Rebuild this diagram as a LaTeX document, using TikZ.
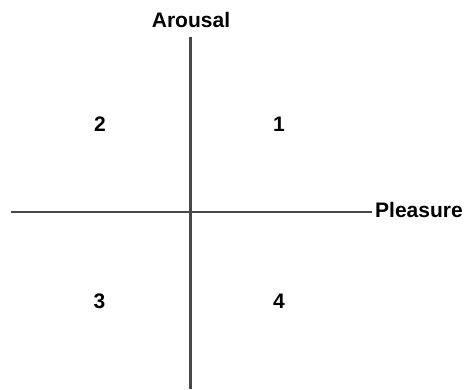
\documentclass[tikz,border=0pt]{standalone}
\usepackage{fontspec}
\setmainfont{Liberation Sans}
\begin{document}
\begin{tikzpicture}[x=1pt,y=-1pt,
  axis/.style={line width=2.2pt,draw=black!72},
  lbl/.style={font=\fontsize{21}{25}\selectfont\bfseries,inner sep=0pt,text=black}]
\useasboundingbox (0,0) rectangle (464,389);
\coordinate (vtop) at (190.5,37);
\coordinate (vbot) at (190.5,389);
\coordinate (hl) at (11,211.7);
\coordinate (hr) at (372,211.7);
\draw[axis] (vtop) -- (vbot);
\draw[axis] (hl) -- (hr);
\node[lbl,anchor=base] (arousal) at (191,27) {Arousal};
\node[lbl,anchor=base west] (pleasure) at (375,217.5) {Pleasure};
\node[lbl,anchor=base] (q2) at (100,131.5) {2};
\node[lbl,anchor=base] (q1) at (279,131.5) {1};
\node[lbl,anchor=base] (q3) at (99.5,308.5) {3};
\node[lbl,anchor=base] (q4) at (279,308.5) {4};
\end{tikzpicture}
\end{document}
